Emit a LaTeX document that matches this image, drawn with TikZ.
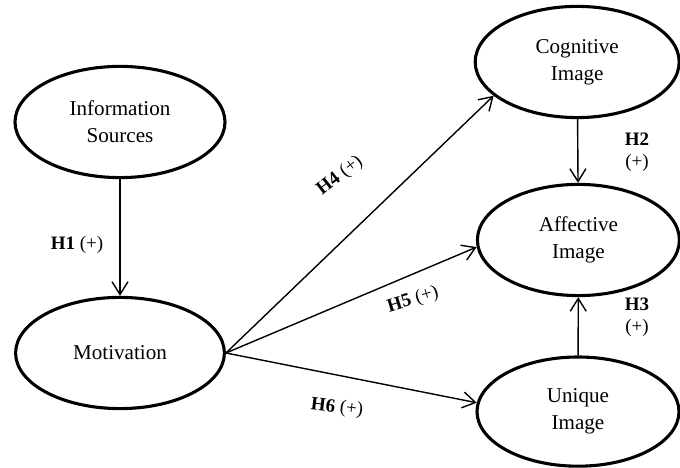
\documentclass[tikz,border=0pt]{standalone}
\usepackage{fontspec}
\setmainfont{Liberation Serif}
\usetikzlibrary{
    arrows.meta,    % For the open arrow tips
    shapes.geometric % For the ellipse nodes
}

\begin{document}
\begin{tikzpicture}[
    construct/.style={ellipse, draw, line width=2.2pt, inner sep=0pt, align=center,
        minimum width=5.15cm, minimum height=2.78cm, font=\fontsize{15}{19}\selectfont},
    arrow/.style={-{Straight Barb[length=3.2mm, width=4mm]}, line width=1pt},
    hyp/.style={font=\fontsize{13.5}{16}\selectfont, align=center}
]
    \useasboundingbox (0, 0) rectangle (17, 11.7);

    % Constructs
    \node[construct, minimum width=5.25cm] (info) at (3.0, 8.65) {Information\\Sources};
    \node[construct, minimum width=5.22cm] (motiv) at (3.0, 2.875) {Motivation};
    \node[construct, minimum width=5.1cm] (cog) at (14.43, 10.15) {Cognitive\\Image};
    \node[construct, minimum width=5.05cm] (aff) at (14.46, 5.7) {Affective\\Image};
    \node[construct, minimum width=5.05cm, minimum height=2.73cm] (uni) at (14.45, 1.41) {Unique\\Image};

    % Paths
    \draw[arrow] (info) -- (motiv);
    \draw[arrow] (motiv.east) -- (cog.202);
    \draw[arrow] (motiv.east) -- (aff.184);
    \draw[arrow] (motiv.east) -- (uni.175);
    \draw[arrow] (cog) -- (aff);
    \draw[arrow] (uni) -- (aff);

    % Hypotheses
    \node[hyp] (h1) at (1.925, 5.575) {\textbf{H1} (+)};
    \node[hyp] (h2) at (15.925, 7.9) {\textbf{H2}\\(+)};
    \node[hyp] (h3) at (15.925, 3.775) {\textbf{H3}\\(+)};
    \node[hyp, rotate=38] (h4) at (8.5, 7.3) {\textbf{H4} (+)};
    \node[hyp, rotate=17] (h5) at (10.325, 4.2) {\textbf{H5} (+)};
    \node[hyp, rotate=-7] (h6) at (8.425, 1.5) {\textbf{H6} (+)};

\end{tikzpicture}
\end{document}
